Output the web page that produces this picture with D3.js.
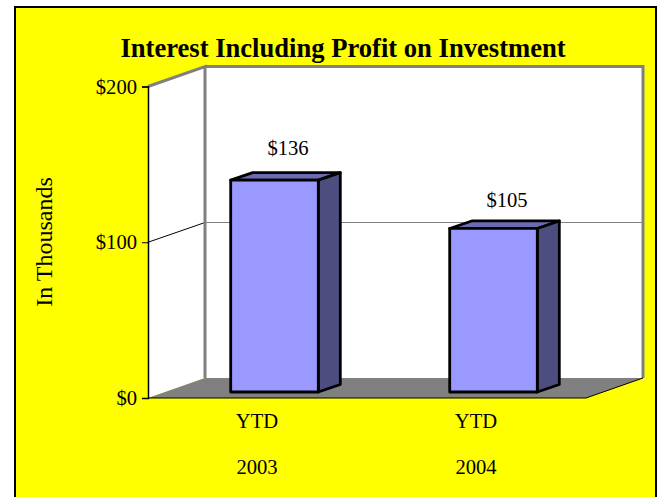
<!DOCTYPE html>
<html>
<head>
<meta charset="utf-8">
<script src="https://cdn.jsdelivr.net/npm/d3@7"></script>
<style>
  html, body { margin: 0; padding: 0; background: #fff; }
  svg { display: block; }
  text { font-family: "Liberation Serif", serif; fill: #000; }
</style>
</head>
<body>
<svg id="chart" width="659" height="497"></svg>
<script>
const title = 'Interest Including Profit on Investment';
const yTitle = 'In Thousands';
const categories = ['2003', '2004'];
const categoryPrefix = ['YTD', 'YTD'];
const values = [136, 105];
const yTicks = [0, 100, 200];

const svg = d3.select('#chart');
const fmt = v => '$' + v;
const labelSize = 20.6;

// front edge of the plot, the back wall is the same thing pushed by depth
const plotLeft = 148, plotRight = 586, plotTop = 86.5, plotBottom = 398;
const depthX = 57, depthY = -20;
// bars sit in the middle of the floor
const barDx = 17, barDy = -6, sideDx = 22, sideDy = -7.5;
// the original value labels are not quite the same distance off their bars
const labelNudge = [-1, 2.5];

const x = d3.scaleBand().domain(categories).range([plotLeft, plotRight])
  .paddingInner(0.6).paddingOuter(0.3);
const y = d3.scaleLinear().domain([0, 200]).range([plotBottom, plotTop]);
const pts = a => a.map(p => p.join(',')).join(' ');

// background panel
svg.append('rect')
  .attr('x', 15).attr('y', 7)
  .attr('width', 641).attr('height', 500)
  .attr('fill', '#ffff00')
  .attr('stroke', '#000')
  .attr('stroke-width', 2);

// walls and floor
svg.append('polygon')
  .attr('points', pts([[plotLeft, y(0)], [plotLeft, y(200)], [plotLeft + depthX, y(200) + depthY],
    [plotRight + depthX, y(200) + depthY], [plotRight + depthX, y(0) + depthY], [plotLeft + depthX, y(0) + depthY]]))
  .attr('fill', '#fff');
svg.append('polygon')
  .attr('points', pts([[plotLeft, y(0)], [plotLeft + depthX, y(0) + depthY], [plotRight + depthX, y(0) + depthY], [plotRight, y(0)]]))
  .attr('fill', '#808080');

// gridline at each tick
yTicks.filter(t => t > 0 && t < 200).forEach(t => {
  const backY = Math.floor(y(t) + depthY) + 0.5;
  svg.append('line')
    .attr('x1', plotLeft).attr('y1', y(t))
    .attr('x2', plotLeft + depthX).attr('y2', backY)
    .attr('stroke', '#000');
  svg.append('line')
    .attr('x1', plotLeft + depthX).attr('y1', backY)
    .attr('x2', plotRight + depthX).attr('y2', backY)
    .attr('stroke', '#808080');
});

// wall outline
svg.append('polyline')
  .attr('points', pts([[plotLeft, y(200)], [plotLeft + depthX, y(200) + depthY], [plotLeft + depthX, y(0) + depthY]]))
  .attr('fill', 'none').attr('stroke', '#808080').attr('stroke-width', 3);
svg.append('polyline')
  .attr('points', pts([[plotLeft + depthX, y(200) + depthY], [plotRight + depthX, y(200) + depthY], [plotRight + depthX, y(0) + depthY]]))
  .attr('fill', 'none').attr('stroke', '#808080').attr('stroke-width', 3);
svg.append('line')
  .attr('x1', plotRight).attr('y1', y(0))
  .attr('x2', plotRight + depthX).attr('y2', y(0) + depthY)
  .attr('stroke', '#000');

// bars
const bars = svg.append('g').selectAll('g')
  .data(values)
  .enter()
  .append('g');

const bx0 = (d, i) => x(categories[i]) + barDx;
const bx1 = (d, i) => bx0(d, i) + x.bandwidth();
const by0 = d => y(d) + barDy;
const by1 = () => y(0) + barDy;

bars.append('polygon')
  .attr('points', (d, i) => pts([[bx0(d, i), by0(d)], [bx0(d, i) + sideDx, by0(d) + sideDy],
    [bx1(d, i) + sideDx, by0(d) + sideDy], [bx1(d, i), by0(d)]]))
  .attr('fill', '#6b6bb3');
bars.append('polygon')
  .attr('points', (d, i) => pts([[bx1(d, i), by0(d)], [bx1(d, i) + sideDx, by0(d) + sideDy],
    [bx1(d, i) + sideDx, by1() + sideDy], [bx1(d, i), by1()]]))
  .attr('fill', '#4d4d80');
bars.append('rect')
  .attr('x', bx0)
  .attr('y', by0)
  .attr('width', x.bandwidth())
  .attr('height', d => by1() - by0(d))
  .attr('fill', '#9999ff');
bars.selectAll('polygon, rect')
  .attr('stroke', '#000')
  .attr('stroke-width', 2.8)
  .attr('stroke-linejoin', 'round');

bars.append('text')
  .attr('x', (d, i) => bx0(d, i) + x.bandwidth() / 2 + 13.5)
  .attr('y', (d, i) => by0(d) - 24 + labelNudge[i])
  .attr('text-anchor', 'middle')
  .attr('font-size', labelSize)
  .text(fmt);

// axes
const yAxis = svg.append('g')
  .attr('transform', `translate(${plotLeft},0)`)
  .call(d3.axisLeft(y).tickValues(yTicks).tickFormat(fmt).tickSize(6).tickPadding(5));
yAxis.selectAll('text').attr('font-size', labelSize).attr('font-family', '"Liberation Serif", serif');
yAxis.selectAll('line').attr('stroke', '#000');
yAxis.select('.domain').attr('stroke', '#000').attr('stroke-width', 1.5);

svg.append('line')
  .attr('x1', plotLeft).attr('y1', y(0))
  .attr('x2', plotRight).attr('y2', y(0))
  .attr('stroke', '#000').attr('stroke-width', 1.2);

// category labels, two rows
const catG = svg.append('g').selectAll('g')
  .data(categories)
  .enter()
  .append('g')
  .attr('transform', d => `translate(${x(d) + x.bandwidth() / 2 - 0.5},0)`);
catG.append('text')
  .attr('y', 428)
  .attr('text-anchor', 'middle')
  .attr('font-size', labelSize)
  .text((d, i) => categoryPrefix[i]);
catG.append('text')
  .attr('y', 474)
  .attr('text-anchor', 'middle')
  .attr('font-size', labelSize)
  .text(d => d);

// titles
svg.append('text')
  .attr('x', 343).attr('y', 57)
  .attr('text-anchor', 'middle')
  .attr('font-size', 26.6)
  .attr('font-weight', 'bold')
  .text(title);
svg.append('text')
  .attr('transform', 'translate(52,242) rotate(-90)')
  .attr('text-anchor', 'middle')
  .attr('font-size', 24)
  .text(yTitle);
</script>
</body>
</html>
